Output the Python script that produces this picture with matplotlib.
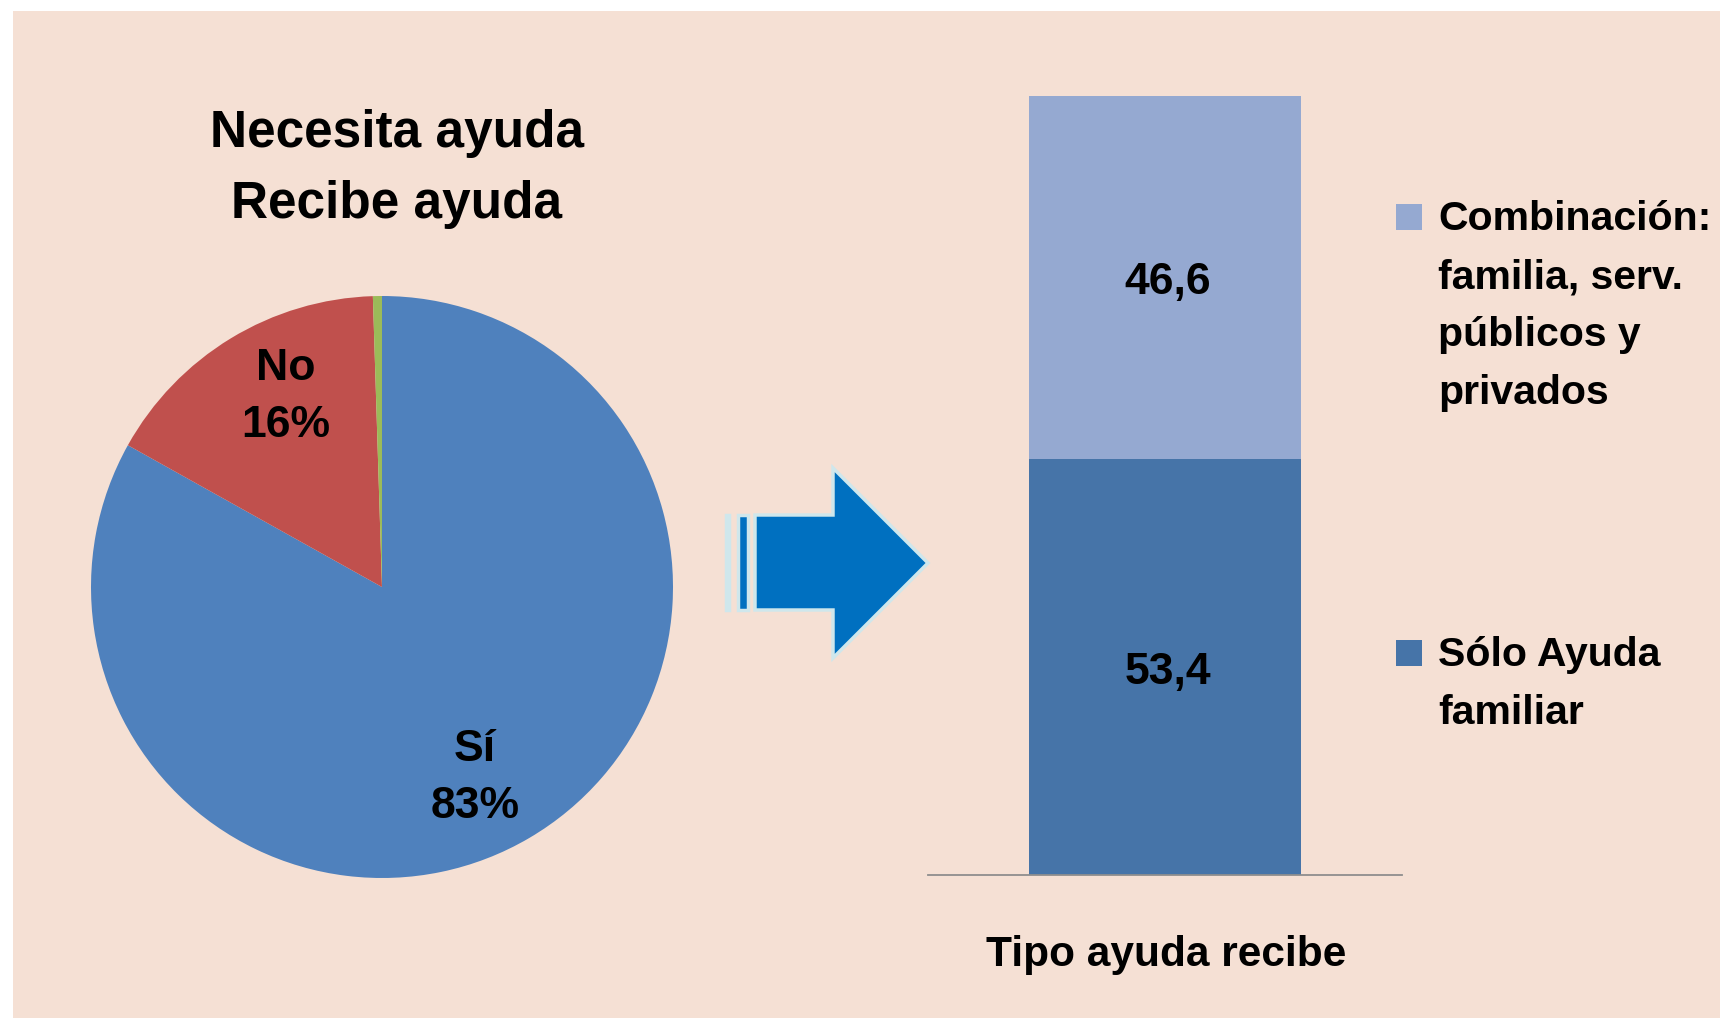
import numpy as np
import matplotlib
matplotlib.use("Agg")
import matplotlib.pyplot as plt
from matplotlib.patches import Rectangle, Polygon

plt.rcParams['font.family'] = ['Liberation Sans', 'DejaVu Sans']
plt.rcParams['font.weight'] = 'bold'

# ---- data ----
pie_labels = ['Sí', 'No', '']
pie_values = [83.1, 16.4, 0.5]
pie_colors = ['#4F81BD', '#C0504D', '#9BBB59']
pie_title = 'Necesita ayuda\nRecibe ayuda'

bar_category = ['Tipo ayuda recibe']
bar_series = ['Sólo Ayuda\nfamiliar', 'Combinación:\nfamilia, serv.\npúblicos y\nprivados']
bar_values = [53.4, 46.6]
bar_labels = ['53,4', '46,6']
bar_colors = ['#4674A8', '#95A9D1']

BG = '#F5E0D4'
W, H = 1720, 1018
fig = plt.figure(figsize=(W / 100, H / 100), dpi=100, facecolor='white')

# background panel (white margin at left and top)
fig.patches.append(Rectangle((13 / W, 0), 1 - 13 / W, (H - 11) / H,
                             transform=fig.transFigure, facecolor=BG,
                             edgecolor='none', zorder=-10))

def fx(px):
    return px / W

def fy(py):
    return 1 - py / H

# ---- pie ----
cx, cy, r = 382, 587, 291
axp = fig.add_axes([fx(cx - r), fy(cy + r), 2 * r / W, 2 * r / H], zorder=1)
axp.set_facecolor('none')
wedges, _ = axp.pie(pie_values, colors=pie_colors, startangle=90,
                    counterclock=False, radius=1.0,
                    wedgeprops=dict(linewidth=0))
axp.set_xlim(-1, 1)
axp.set_ylim(-1, 1)
axp.set_aspect('auto')
axp.axis('off')
total = sum(pie_values)
for w, lab, v in zip(wedges, pie_labels, pie_values):
    if not lab:
        continue
    ang = np.deg2rad((w.theta1 + w.theta2) / 2 - 4.5)
    d = 0.73
    axp.text(d * np.cos(ang), d * np.sin(ang),
             f'{lab}\n{round(v / total * 100):d}%',
             ha='center', va='center', fontsize=32, fontweight='bold',
             color='black', linespacing=1.5)

fig.text(fx(397), fy(169), pie_title, ha='center', va='center',
         fontsize=37, fontweight='bold', color='black', linespacing=1.56)

# ---- arrow ----
arrow_color = '#0070C0'
edge_color = '#CFE7EC'
body = [(755, 515), (833, 515), (833, 468), (928, 563), (833, 658),
        (833, 610), (755, 610)]
fig.patches.append(Polygon([(fx(x), fy(y)) for x, y in body], closed=True,
                           transform=fig.transFigure, facecolor=arrow_color,
                           edgecolor=edge_color, linewidth=2.5, zorder=2))
for x0, x1 in [(726, 729), (738, 748)]:
    fig.patches.append(Rectangle((fx(x0), fy(610)), (x1 - x0) / W, 95 / H,
                                 transform=fig.transFigure,
                                 facecolor=arrow_color, edgecolor=edge_color,
                                 linewidth=2.5, zorder=2))

# ---- stacked bar ----
axb = fig.add_axes([fx(928), fy(875), (1402 - 928) / W, (875 - 95.5) / H],
                   zorder=1)
axb.set_facecolor('none')
x = np.arange(len(bar_category))
bottom = np.zeros(len(bar_category))
for vals, lab, col, name in zip(bar_values, bar_labels, bar_colors, bar_series):
    axb.bar(x, [vals], width=0.574, bottom=bottom, color=col,
            edgecolor='none', label=name)
    axb.annotate(lab, (x[0], bottom[0] + vals / 2), xytext=(2, -4),
                 textcoords='offset points', ha='center', va='center',
                 fontsize=32, fontweight='bold', color='black')
    bottom = bottom + vals
axb.set_xlim(-0.5, 0.5)
axb.set_ylim(0, 100)
for s in ['top', 'right', 'left']:
    axb.spines[s].set_visible(False)
axb.spines['bottom'].set_color('#8E8E8E')
axb.spines['bottom'].set_linewidth(1.3)
axb.set_xticks([])
axb.set_yticks([])
fig.text(fx(1166), fy(955), bar_category[0], ha='center', va='center',
         fontsize=30.5, fontweight='bold', color='black')

# ---- legend (manual) ----
legend_items = [(bar_series[1], bar_colors[1], 204),
                (bar_series[0], bar_colors[0], 640)]
for text, col, ytop in legend_items:
    fig.patches.append(Rectangle((fx(1396), fy(ytop + 26)), 26 / W, 26 / H,
                                 transform=fig.transFigure, facecolor=col,
                                 edgecolor='none', zorder=2))
    fig.text(fx(1438), fy(ytop - 4), text, ha='left', va='top',
             fontsize=29.5, fontweight='bold', color='black', linespacing=1.67)

fig.savefig('out.png', dpi=100, facecolor='white')
